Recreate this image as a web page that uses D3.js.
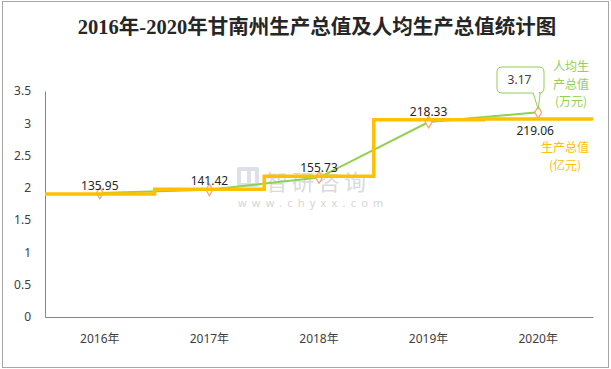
<!DOCTYPE html>
<html>
<head>
<meta charset="utf-8">
<script src="https://cdn.jsdelivr.net/npm/d3@7"></script>
<style>
  body { margin: 0; background: #fff; }
  svg { display: block; }
  text { font-family: "Noto Sans", "Noto Sans CJK SC", sans-serif; }
</style>
</head>
<body>
<svg id="chart" width="611" height="369"></svg>
<script>
const years = ["2016年", "2017年", "2018年", "2019年", "2020年"]
const gdp = [135.95, 141.42, 155.73, 218.33, 219.06]        // 亿元
const perCapita = [1.92, 1.97, 2.16, 3.02, 3.17]             // 万元
const yTicks = [0, 0.5, 1, 1.5, 2, 2.5, 3, 3.5]

const green = "#92D050"
const orange = "#FFC000"
const marker = "#F4A26B"

const svg = d3.select("#chart")

// outer frame
svg.append("rect")
    .attr("x", 2.5).attr("y", 1.5)
    .attr("width", 606).attr("height", 366)
    .attr("fill", "none").attr("stroke", "#a6a6a6")

svg.append("text")
    .attr("x", 317).attr("y", 34)
    .attr("text-anchor", "middle")
    .style("font-family", "'Liberation Serif', 'Noto Sans CJK SC', serif")
    .style("font-size", "20.5px").style("font-weight", "bold")
    .attr("fill", "#262626")
    .text("2016年-2020年甘南州生产总值及人均生产总值统计图")

const x = d3.scaleBand().domain(years).range([45, 593]).padding(0)
const y = d3.scaleLinear().domain([0, 3.5]).range([317, 91])
const y2 = d3.scaleLinear().domain([0, 250]).range([317, 91])   // hidden axis for 生产总值

// watermark
const wm = svg.append("g").attr("fill", "#dde1e7")
wm.append("rect").attr("x", 237).attr("y", 167).attr("width", 22).attr("height", 20).attr("rx", 2)
wm.append("rect").attr("x", 241).attr("y", 171).attr("width", 6).attr("height", 12).attr("fill", "#fff")
wm.append("rect").attr("x", 251).attr("y", 171).attr("width", 4).attr("height", 12).attr("fill", "#fff")
wm.append("text").attr("x", 266).attr("y", 190)
    .style("font-size", "22px").style("letter-spacing", "4px").attr("fill", "#dadada").text("智研咨询")
wm.append("text").attr("x", 238).attr("y", 207)
    .style("font-size", "11px").style("letter-spacing", "5.2px").attr("fill", "#d4d4d4")
    .text("www.chyxx.com")

// axes
const yAxis = svg.append("g")
    .attr("transform", "translate(45,0)")
    .call(d3.axisLeft(y).tickValues(yTicks).tickSize(0).tickPadding(14).tickFormat(d3.format("")))
const xAxis = svg.append("g")
    .attr("transform", "translate(0,317)")
    .call(d3.axisBottom(x).tickSize(0).tickPadding(17))
for (const ax of [yAxis, xAxis]) {
    ax.select(".domain").attr("stroke", "#868686")
    ax.selectAll("text").attr("fill", "#404040")
        .style("font-size", "12px")
        .style("font-family", "'Noto Sans', 'Noto Sans CJK SC', sans-serif")
}

const cx = d => x(d) + x.bandwidth() / 2

// 人均生产总值 line
svg.append("path")
    .datum(perCapita)
    .attr("fill", "none")
    .attr("stroke", green)
    .attr("stroke-width", 2)
    .attr("d", d3.line().x((d, i) => cx(years[i])).y(d => y(d)))

svg.selectAll("path.diamond")
    .data(perCapita)
    .join("path")
    .attr("class", "diamond")
    .attr("d", d3.symbol(d3.symbolDiamond, 40))
    .attr("transform", (d, i) => `translate(${cx(years[i])},${y(d)})`)
    .attr("fill", "#fff").attr("stroke", marker).attr("stroke-width", 1.2)

// 生产总值 step line
const stepPts = gdp.map((v, i) => [x(years[i]), v])
stepPts.push([x.range()[1], gdp[gdp.length - 1]])
svg.append("path")
    .datum(stepPts)
    .attr("fill", "none")
    .attr("stroke", orange)
    .attr("stroke-width", 3.5)
    .attr("d", d3.line().curve(d3.curveStepAfter).x(d => d[0]).y(d => y2(d[1])))

// gdp labels
svg.selectAll("text.gdp")
    .data(gdp)
    .join("text")
    .attr("class", "gdp")
    .attr("x", (d, i) => cx(years[i]) - (i === 4 ? 3 : 0))
    .attr("y", (d, i) => i === 4 ? y2(d) + 16 : y2(d) - 4)
    .attr("text-anchor", "middle")
    .style("font-size", "12px")
    .attr("fill", "#262626")
    .text(d => d.toFixed(2))

// callout for last per-capita value
const lx = cx(years[4]), ly = y(perCapita[4])
const bx = 497, by = 67, bw = 47, bh = 26, r = 5
svg.append("path")
    .attr("d", `M${bx + r},${by} H${bx + bw - r} Q${bx + bw},${by} ${bx + bw},${by + r}
        V${by + bh - r} Q${bx + bw},${by + bh} ${bx + bw - r},${by + bh}
        H${lx + 2} L${lx},${ly - 3} L${lx - 5},${by + bh}
        H${bx + r} Q${bx},${by + bh} ${bx},${by + bh - r}
        V${by + r} Q${bx},${by} ${bx + r},${by} Z`)
    .attr("fill", "#fff").attr("stroke", green).attr("stroke-width", 1)
svg.append("text")
    .attr("x", bx + bw / 2 - 1).attr("y", by + 17)
    .attr("text-anchor", "middle")
    .style("font-size", "12px").attr("fill", "#404040")
    .text(perCapita[4].toFixed(2))

// series labels
const greenLabel = ["人均生", "产总值", "(万元)"]
svg.selectAll("text.gl")
    .data(greenLabel)
    .join("text")
    .attr("class", "gl")
    .attr("x", 571).attr("y", (d, i) => 71 + i * 17.5)
    .attr("text-anchor", "middle")
    .style("font-size", "12px")
    .style("font-family", "'Noto Sans CJK SC', sans-serif")
    .attr("fill", green)
    .text(d => d)

const orangeLabel = ["生产总值", "(亿元)"]
svg.selectAll("text.ol")
    .data(orangeLabel)
    .join("text")
    .attr("class", "ol")
    .attr("x", 565).attr("y", (d, i) => 152 + i * 17.5)
    .attr("text-anchor", "middle")
    .style("font-size", "12px")
    .style("font-family", "'Noto Sans CJK SC', sans-serif")
    .attr("fill", orange)
    .text(d => d)
</script>
</body>
</html>
